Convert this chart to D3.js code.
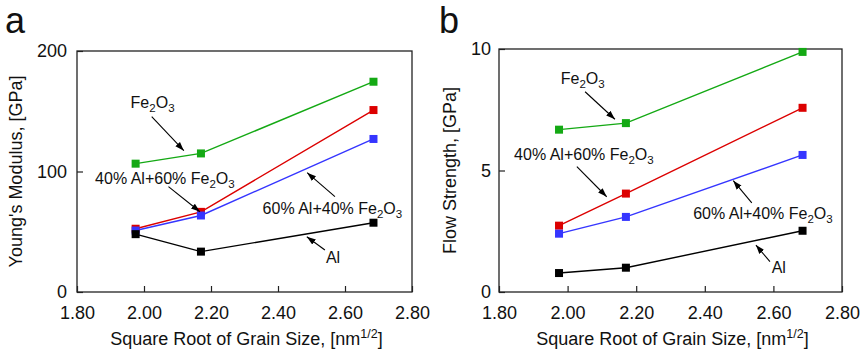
<!DOCTYPE html>
<html>
<head>
<meta charset="utf-8">
<script src="https://cdn.jsdelivr.net/npm/d3@7"></script>
<style>
  body { margin: 0; background: #fff; }
  text { font-family: Arial, "Liberation Sans", sans-serif; fill: #111; }
</style>
</head>
<body>
<div id="chart"></div>
<script>
// data
const grainSize = [1.975, 2.17, 2.685];
const xTicks = [1.8, 2.0, 2.2, 2.4, 2.6, 2.8];

const modulusFe2O3 = [106.5, 115, 174.5];
const modulus40Al = [52.5, 66.5, 151];
const modulus60Al = [51, 63.5, 127];
const modulusAl = [48, 33.5, 57.5];
const modulusTicks = [0, 100, 200];

const strengthFe2O3 = [6.68, 6.95, 9.88];
const strength40Al = [2.73, 4.05, 7.58];
const strength60Al = [2.4, 3.09, 5.64];
const strengthAl = [0.78, 1.0, 2.52];
const strengthTicks = [0, 5, 10];

const seriesColors = ["#14a914", "#dc0000", "#3535ff", "#000000"];

// annotation labels: [text, isSubscript] pieces, position in data units
const labelParts = [
  [["Fe", 0], ["2", 1], ["O", 0], ["3", 1]],
  [["40% Al+60% Fe", 0], ["2", 1], ["O", 0], ["3", 1]],
  [["60% Al+40% Fe", 0], ["2", 1], ["O", 0], ["3", 1]],
  [["Al", 0]]
];
const modulusNotes = [
  { text: [1.960, 152.7], from: [2.023, 145.5], to: [2.119, 117.3] },
  { text: [1.854, 89.6], from: [2.073, 87.4], to: [2.167, 66.6] },
  { text: [2.354, 64.7], from: [2.570, 79.1], to: [2.487, 99.0] },
  { text: [2.543, 23.8], from: [2.540, 34.9], to: [2.486, 45.9] }
];
const strengthNotes = [
  { text: [1.980, 8.55], from: [2.051, 8.24], to: [2.138, 7.11] },
  { text: [1.844, 5.43], from: [2.027, 5.16], to: [2.114, 3.92] },
  { text: [2.366, 2.99], from: [2.537, 3.67], to: [2.483, 4.58] },
  { text: [2.595, 0.77], from: [2.590, 1.25], to: [2.549, 1.93] }
];

const svg = d3.select("#chart").append("svg")
  .attr("width", 863)
  .attr("height", 355);

const defs = svg.append("defs");
defs.append("marker")
  .attr("id", "arrow")
  .attr("viewBox", "0 0 10 10")
  .attr("refX", 10).attr("refY", 5)
  .attr("markerWidth", 9).attr("markerHeight", 9)
  .attr("markerUnits", "userSpaceOnUse")
  .attr("orient", "auto")
  .append("path")
  .attr("d", "M0,1.5 L10,5 L0,8.5 Z")
  .attr("fill", "#000");

function drawPanel(opt) {
  const x = d3.scaleLinear().domain([1.8, 2.8]).range([opt.left, opt.right]);
  const y = d3.scaleLinear().domain([0, opt.yMax]).range([opt.bottom, opt.top]);
  const g = svg.append("g");

  // frame
  g.append("rect")
    .attr("x", opt.left).attr("y", opt.top)
    .attr("width", opt.right - opt.left).attr("height", opt.bottom - opt.top)
    .attr("fill", "none").attr("stroke", "#222").attr("stroke-width", 1.3);

  // x axis: major ticks with labels, minor every 0.05, pointing inward
  const xAxis = g.append("g").attr("transform", `translate(0,${opt.bottom})`);
  xAxis.call(d3.axisBottom(x).tickValues(d3.range(1.8, 2.8001, 0.05)).tickSize(-3.5).tickFormat(""));
  xAxis.call(d3.axisBottom(x).tickValues(xTicks).tickSize(-6).tickFormat(d3.format(".2f")).tickPadding(14));
  xAxis.select(".domain").remove();
  xAxis.selectAll("line").attr("stroke", "#222").attr("stroke-width", 1.2);
  xAxis.selectAll("text").attr("font-size", 18).attr("fill", "#111")
    .style("font-family", "Arial, 'Liberation Sans', sans-serif");

  // y axis
  const minor = [opt.yMax / 4, opt.yMax * 3 / 4];
  const yAxis = g.append("g").attr("transform", `translate(${opt.left},0)`);
  yAxis.call(d3.axisLeft(y).tickValues(minor).tickSize(-4).tickFormat(""));
  yAxis.call(d3.axisLeft(y).tickValues(opt.ticks).tickSize(-6).tickPadding(opt.pad));
  yAxis.select(".domain").remove();
  yAxis.selectAll("line").attr("stroke", "#222").attr("stroke-width", 1.2);
  yAxis.selectAll("text").attr("font-size", 18).attr("fill", "#111")
    .style("font-family", "Arial, 'Liberation Sans', sans-serif");

  // series
  const line = d3.line().x((d, i) => x(grainSize[i])).y(d => y(d));
  opt.series.forEach((vals, k) => {
    g.append("path").datum(vals)
      .attr("d", line)
      .attr("fill", "none")
      .attr("stroke", seriesColors[k])
      .attr("stroke-width", 1.4);
  });
  opt.series.forEach((vals, k) => {
    g.selectAll(null).data(vals).enter().append("rect")
      .attr("x", (d, i) => x(grainSize[i]) - 4)
      .attr("y", d => y(d) - 4)
      .attr("width", 8).attr("height", 8)
      .attr("fill", seriesColors[k]);
  });

  // annotations
  opt.notes.forEach((n, k) => {
    g.append("line")
      .attr("x1", x(n.from[0])).attr("y1", y(n.from[1]))
      .attr("x2", x(n.to[0])).attr("y2", y(n.to[1]))
      .attr("stroke", "#000").attr("stroke-width", 1.1)
      .attr("marker-end", "url(#arrow)");
    const t = g.append("text")
      .attr("x", x(n.text[0])).attr("y", y(n.text[1]))
      .attr("font-size", 16);
    let shifted = 0;
    labelParts[k].forEach(([s, sub]) => {
      const dy = sub ? 4 - shifted : -shifted;
      shifted += dy;
      t.append("tspan").attr("dy", dy).attr("font-size", sub ? 11.5 : 16).text(s);
    });
  });

  // axis titles
  g.append("text")
    .attr("transform", `translate(${opt.titleX},${(opt.top + opt.bottom) / 2}) rotate(-90)`)
    .attr("text-anchor", "middle")
    .attr("font-size", 18)
    .text(opt.yTitle);

  const xt = g.append("text")
    .attr("x", (opt.left + opt.right) / 2 + 2)
    .attr("y", 345)
    .attr("text-anchor", "middle")
    .attr("font-size", 18);
  xt.append("tspan").text("Square Root of Grain Size, [nm");
  xt.append("tspan").attr("dy", -7).attr("font-size", 12.5).text("1/2");
  xt.append("tspan").attr("dy", 7).text("]");

  // panel letter
  g.append("text")
    .attr("x", opt.letterX).attr("y", 33)
    .attr("font-size", 36)
    .text(opt.letter);
}

drawPanel({
  left: 77, right: 412, top: 51, bottom: 292, yMax: 200,
  ticks: modulusTicks, pad: 10, titleX: 22, letterX: 5, letter: "a",
  yTitle: "Young's Modulus, [GPa]",
  series: [modulusFe2O3, modulus40Al, modulus60Al, modulusAl],
  notes: modulusNotes
});

drawPanel({
  left: 499, right: 842, top: 49, bottom: 292, yMax: 10,
  ticks: strengthTicks, pad: 8, titleX: 456, letterX: 439, letter: "b",
  yTitle: "Flow Strength, [GPa]",
  series: [strengthFe2O3, strength40Al, strength60Al, strengthAl],
  notes: strengthNotes
});
</script>
</body>
</html>
